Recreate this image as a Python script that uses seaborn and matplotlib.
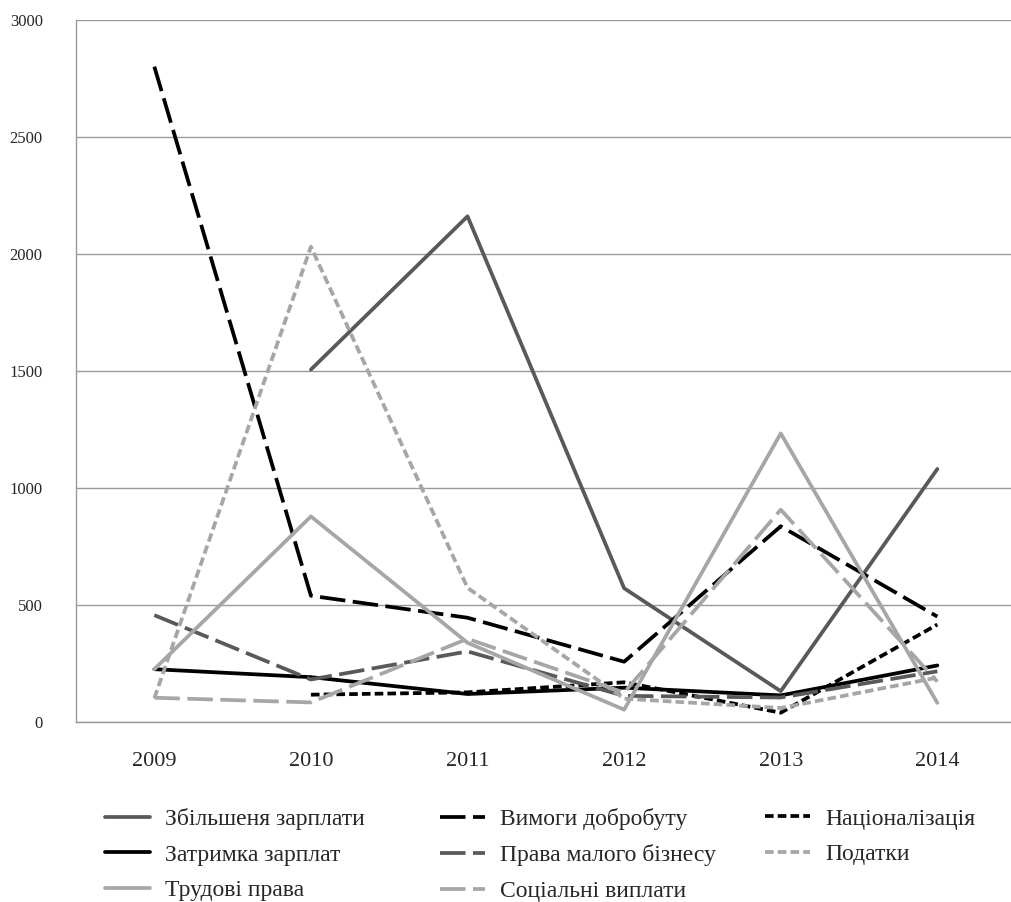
import numpy as np
import pandas as pd
import matplotlib
matplotlib.use("Agg")
import matplotlib.pyplot as plt
import seaborn as sns

# ============================================================
# DATA
# ============================================================
YEARS = ["2009", "2010", "2011", "2012", "2013", "2014"]

SERIES = [
    "Збільшеня зарплати", "Вимоги добробуту", "Націоналізація",
    "Затримка зарплат", "Права малого бізнесу", "Податки",
    "Трудові права", "Соціальні виплати",
]

wage_increase = [np.nan, 1505, 2160, 570, 130, 1080]
welfare_demands = [2800, 538, 444, 256, 835, 449]
nationalisation = [np.nan, 115, 125, 168, 38, 415]
wage_arrears = [224, 190, 118, 145, 112, 240]
small_business = [455, 180, 300, 110, 103, 215]
taxes = [100, 2030, 572, 98, 58, 188]
labour_rights = [224, 877, 337, 51, 1232, 80]
social_payments = [102, 82, 354, 124, 906, 171]

VALUES = [wage_increase, welfare_demands, nationalisation, wage_arrears,
          small_business, taxes, labour_rights, social_payments]

Y_TICKS = [0, 500, 1000, 1500, 2000, 2500, 3000]

# legend columns as in the reference (rows read left to right)
LEGEND_COLUMNS = [
    ["Збільшеня зарплати", "Затримка зарплат", "Трудові права"],
    ["Вимоги добробуту", "Права малого бізнесу", "Соціальні виплати"],
    ["Націоналізація", "Податки"],
]

# ============================================================
# STYLE
# ============================================================
DARK, BLACK, LIGHT = "#595959", "#000000", "#A6A6A6"
LONG, SHORT = (6.8, 2.0), (2.3, 1.1)
LW = 2.7

PALETTE = dict(zip(SERIES, [DARK, BLACK, BLACK, BLACK, DARK, LIGHT, LIGHT, LIGHT]))
DASHES = dict(zip(SERIES, ["", LONG, SHORT, "", LONG, SHORT, "", LONG]))

FIG_W, FIG_H = 1011, 902
LEGEND_X_PX = [105, 440, 765]   # left edge of each column's line sample
LEGEND_TOP_PX = 808


def build_frame() -> pd.DataFrame:
    rows = []
    for name, vals in zip(SERIES, VALUES):
        for year, v in zip(YEARS, vals):
            rows.append({"year": year, "series": name, "value": v})
    return pd.DataFrame(rows)


def main():
    df = build_frame()
    df["pos"] = df["year"].map({y: i for i, y in enumerate(YEARS)})
    df = df.dropna(subset=["value"])

    sns.set_style("white")
    plt.rcParams["font.family"] = ["Liberation Serif", "DejaVu Serif"]

    fig = plt.figure(figsize=(FIG_W / 100, FIG_H / 100), dpi=100)
    ax = fig.add_axes([0.0752, 0.2, 0.9294, 0.778])

    sns.lineplot(data=df, x="pos", y="value", hue="series", style="series",
                 hue_order=SERIES, style_order=SERIES, palette=PALETTE,
                 dashes=DASHES, linewidth=LW, sort=False, ax=ax)

    ax.set_xlim(-0.5, 5.5)
    ax.set_ylim(0, 3000)
    ax.set_yticks(Y_TICKS)
    ax.set_yticklabels([str(t) for t in Y_TICKS])
    ax.yaxis.grid(True, color="#9a9a9a", linewidth=1.0)
    ax.set_axisbelow(True)

    ax.set_xticks(np.arange(-0.5, 6, 1))
    ax.set_xticklabels([])
    ax.set_xticks(np.arange(len(YEARS)), minor=True)
    ax.set_xticklabels(YEARS, minor=True)
    ax.tick_params(axis="x", which="major", length=6, color="#9a9a9a")
    ax.tick_params(axis="x", which="minor", length=0, pad=22, labelsize=16)
    ax.tick_params(axis="y", length=6, color="#9a9a9a", pad=18, labelsize=12)
    ax.set_xlabel("")
    ax.set_ylabel("")

    for side in ["top", "right"]:
        ax.spines[side].set_visible(False)
    for side in ["left", "bottom"]:
        ax.spines[side].set_color("#9a9a9a")
        ax.spines[side].set_linewidth(1.0)

    handles, labels = ax.get_legend_handles_labels()
    lookup = dict(zip(labels, handles))
    ax.get_legend().remove()

    # one single-column legend per column so each sits where the reference has it
    for names, x_px in zip(LEGEND_COLUMNS, LEGEND_X_PX):
        fig.legend([lookup[k] for k in names], names, frameon=False,
                   loc="upper left", borderpad=0, borderaxespad=0,
                   bbox_to_anchor=(x_px / FIG_W, 1 - LEGEND_TOP_PX / FIG_H),
                   fontsize=17, handlelength=1.9, handletextpad=0.65,
                   labelspacing=0.6)

    plt.savefig("out.png", dpi=100)
    plt.close()


if __name__ == "__main__":
    main()
